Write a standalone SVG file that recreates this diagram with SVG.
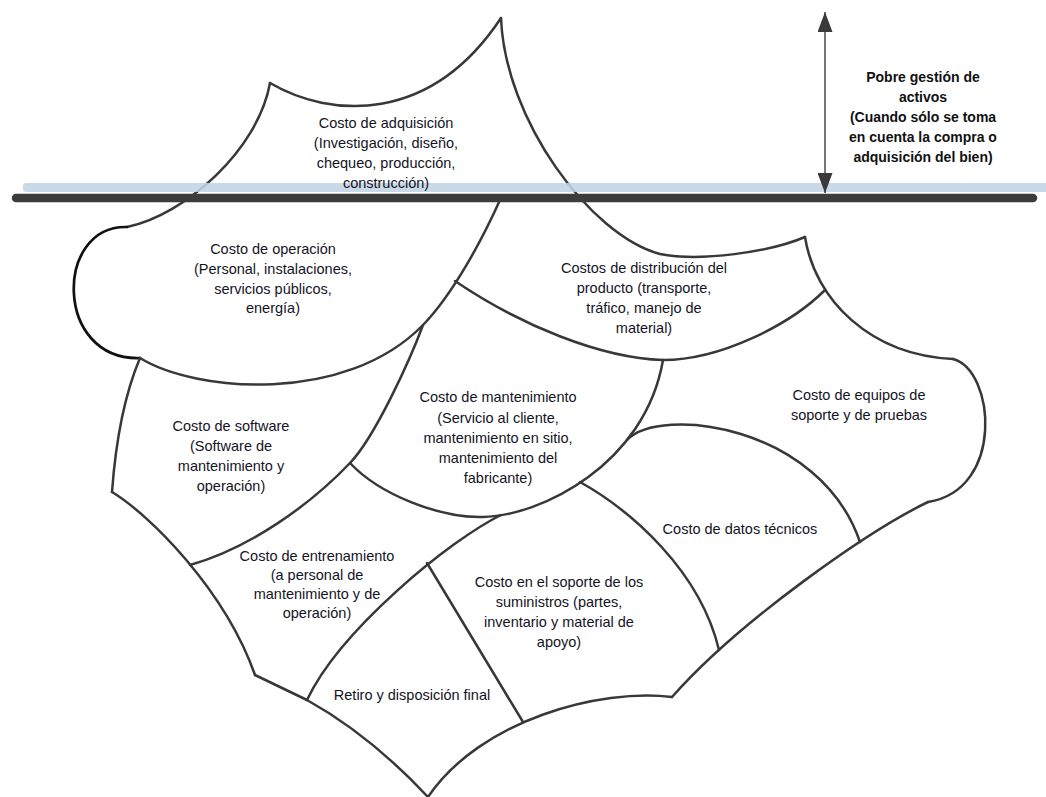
<svg xmlns="http://www.w3.org/2000/svg" width="1046" height="797" viewBox="0 0 1046 797">
<defs>
<style>
.ln{fill:none;stroke:#383838;stroke-width:2.5;stroke-linecap:round;stroke-linejoin:round}
.blk{fill:none;stroke:#111;stroke-width:2.7;stroke-linecap:round}
.t{font-family:"Liberation Sans",Arial,sans-serif;font-size:14.5px;fill:#14141f;text-anchor:middle}
.b{font-family:"Liberation Sans",Arial,sans-serif;font-size:14px;font-weight:bold;fill:#111;text-anchor:middle}
</style>
<marker id="ah" viewBox="0 0 20 15" refX="20" refY="7.5" markerWidth="20" markerHeight="15" markerUnits="userSpaceOnUse" orient="auto-start-reverse">
<path d="M0,0 L20,7.5 L0,15 z" fill="#3a3a3a"/>
</marker>
</defs>
<rect width="1046" height="797" fill="#fff"/>
<g id="connectors">
<path class="ln" d="M270,83 C330,118 430,125 501,18"/>
<path class="ln" d="M270,83 C258,150 185,215 127,227"/>
<path class="blk" d="M127,227 C54,225 54,361 140,358"/>
<path class="ln" d="M140,358 C195,392 345,405 423,325 C453,294 482,240 500,200"/>
<path class="ln" d="M501,18 C505,120 590,235 660,254 C700,262 770,252 805,237"/>
<path class="ln" d="M805,237 C815,300 870,355 953,359"/>
<path class="ln" d="M953,359 C995,370 1005,490 928,502"/>
<path class="ln" d="M928,502 C870,530 740,620 672,697"/>
<path class="ln" d="M672,697 C600,688 480,720 428,797"/>
<path class="ln" d="M140,358 Q118,410 112,492"/>
<path class="ln" d="M112,492 C150,515 225,590 255,675"/>
<path class="ln" d="M255,675 L307,700"/>
<path class="ln" d="M307,700 Q370,735 428,797"/>
<path class="ln" d="M190,565 C250,548 310,505 350,463 C375,437 410,360 423,325"/>
<path class="ln" d="M350,463 C380,495 440,518 483,517 C540,516 645,465 663,360"/>
<path class="ln" d="M455,281 C520,325 600,358 663,360 C720,360 790,325 825,290"/>
<path class="ln" d="M627,440 C660,405 820,425 860,542"/>
<path class="ln" d="M580,482 C630,510 700,570 719,650"/>
<path class="ln" d="M501,515 C450,540 340,630 307,700"/>
<path class="ln" d="M427,563 L523,722"/>
</g>
<g id="waterline">
<rect x="23" y="183" width="1030" height="9" rx="3" fill="#c2d4e5" opacity="0.88"/>
<line x1="16" y1="198" x2="1033" y2="198" stroke="#3c3c3c" stroke-width="8.5" stroke-linecap="round"/>
</g>
<g id="arrow">
<line x1="825" y1="12" x2="825" y2="193" stroke="#555" stroke-width="1.6" marker-start="url(#ah)" marker-end="url(#ah)"/>
</g>
<g id="adquisicion">
<text class="t" x="386" y="128">Costo de adquisición</text>
<text class="t" x="386" y="148">(Investigación, diseño,</text>
<text class="t" x="386" y="168">chequeo, producción,</text>
<text class="t" x="386" y="188">construcción)</text>
</g>
<g id="pobre">
<text class="b" x="923" y="82">Pobre gestión de</text>
<text class="b" x="923" y="102">activos</text>
<text class="b" x="923" y="122">(Cuando sólo se toma</text>
<text class="b" x="923" y="142">en cuenta la compra o</text>
<text class="b" x="923" y="162">adquisición del bien)</text>
</g>
<g id="operacion">
<text class="t" x="273" y="254">Costo de operación</text>
<text class="t" x="273" y="274">(Personal, instalaciones,</text>
<text class="t" x="273" y="294">servicios públicos,</text>
<text class="t" x="273" y="313">energía)</text>
</g>
<g id="distribucion">
<text class="t" x="644" y="273">Costos de distribución del</text>
<text class="t" x="644" y="293">producto (transporte,</text>
<text class="t" x="644" y="313">tráfico, manejo de</text>
<text class="t" x="644" y="333">material)</text>
</g>
<g id="mantenimiento">
<text class="t" x="498" y="402">Costo de mantenimiento</text>
<text class="t" x="498" y="423">(Servicio al cliente,</text>
<text class="t" x="498" y="443">mantenimiento en sitio,</text>
<text class="t" x="498" y="463">mantenimiento del</text>
<text class="t" x="498" y="483">fabricante)</text>
</g>
<g id="software">
<text class="t" x="231" y="431">Costo de software</text>
<text class="t" x="231" y="451">(Software de</text>
<text class="t" x="231" y="471">mantenimiento y</text>
<text class="t" x="231" y="491">operación)</text>
</g>
<g id="equipos">
<text class="t" x="859" y="400">Costo de equipos de</text>
<text class="t" x="859" y="420">soporte y de pruebas</text>
</g>
<g id="datos">
<text class="t" x="740" y="534">Costo de datos técnicos</text>
</g>
<g id="entrenamiento">
<text class="t" x="317" y="561">Costo de entrenamiento</text>
<text class="t" x="317" y="580">(a personal de</text>
<text class="t" x="317" y="599">mantenimiento y de</text>
<text class="t" x="317" y="618">operación)</text>
</g>
<g id="suministros">
<text class="t" x="559" y="587">Costo en el soporte de los</text>
<text class="t" x="559" y="607">suministros (partes,</text>
<text class="t" x="559" y="627">inventario y material de</text>
<text class="t" x="559" y="647">apoyo)</text>
</g>
<g id="retiro">
<text class="t" x="412" y="700">Retiro y disposición final</text>
</g>
</svg>
